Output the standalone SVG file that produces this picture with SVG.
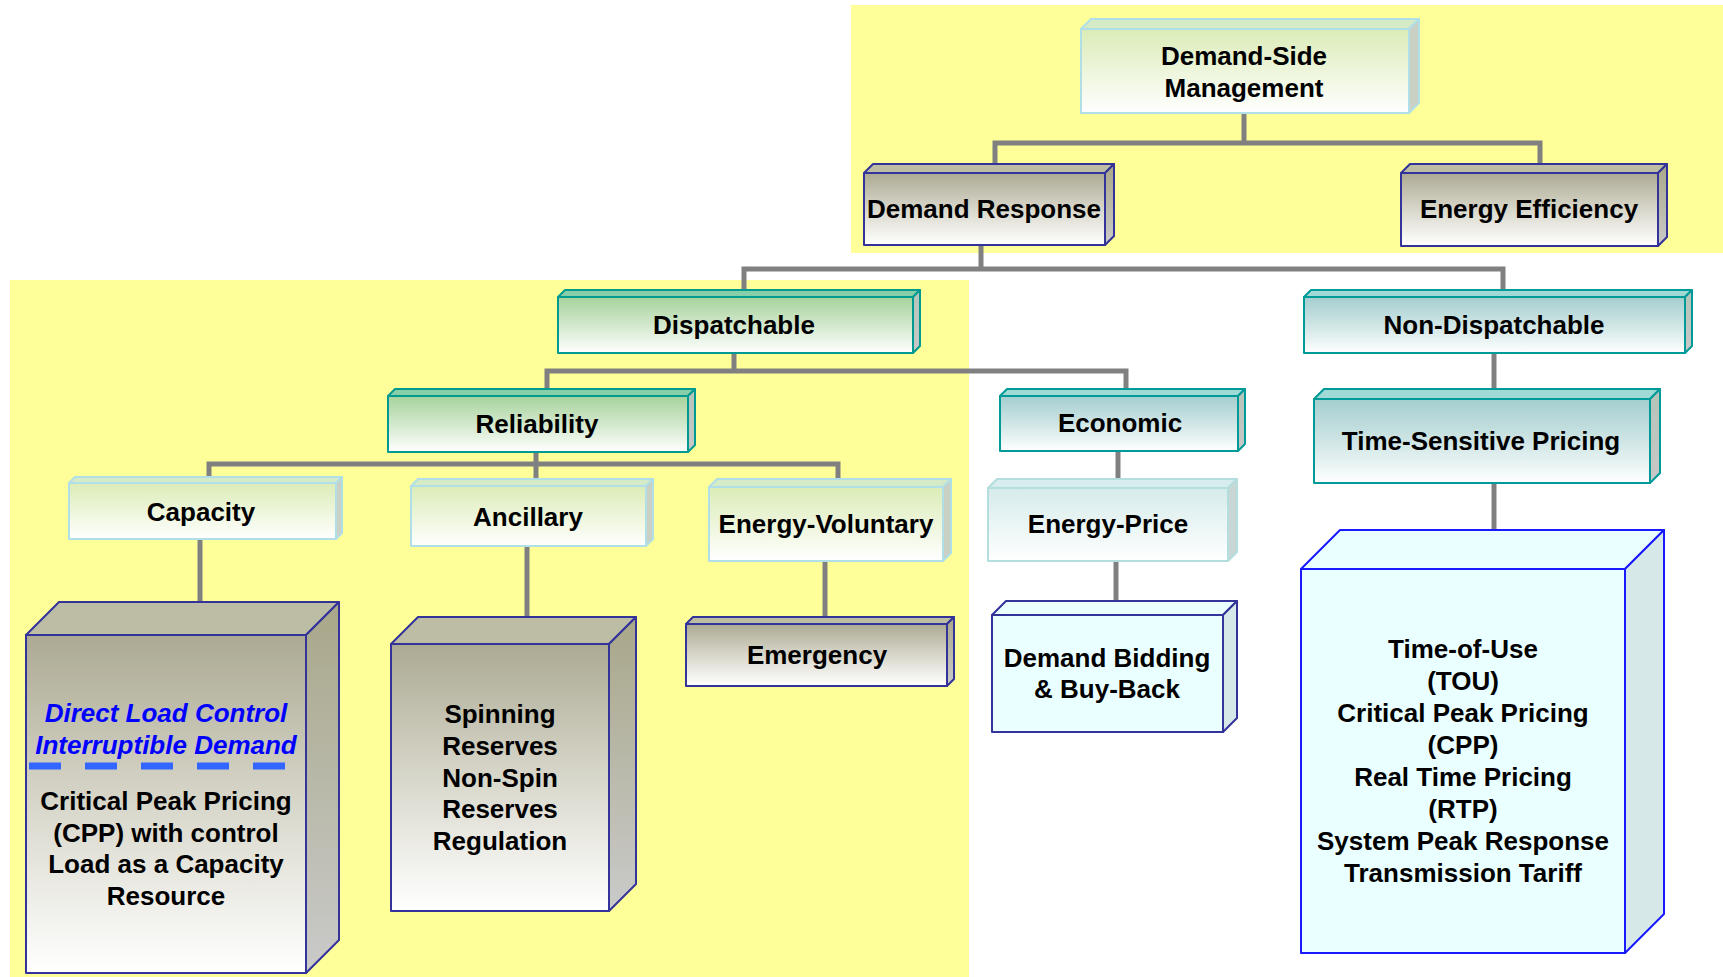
<svg xmlns="http://www.w3.org/2000/svg" width="1723" height="977" viewBox="0 0 1723 977">
  <defs>
    <!-- front-face fills -->
    <linearGradient id="gKhaki" x1="0" y1="0" x2="0" y2="1">
      <stop offset="0" stop-color="#acaa93"/>
      <stop offset="0.55" stop-color="#dcdbd0"/>
      <stop offset="1" stop-color="#ffffff"/>
    </linearGradient>
    <linearGradient id="gKhakiSide" x1="0" y1="0" x2="0" y2="1">
      <stop offset="0" stop-color="#a8a789"/>
      <stop offset="1" stop-color="#cacaca"/>
    </linearGradient>
    <linearGradient id="gGreen" x1="0" y1="0" x2="0" y2="1">
      <stop offset="0" stop-color="#a6d39c"/>
      <stop offset="0.5" stop-color="#d2e8cc"/>
      <stop offset="1" stop-color="#ffffff"/>
    </linearGradient>
    <linearGradient id="gTeal" x1="0" y1="0" x2="0" y2="1">
      <stop offset="0" stop-color="#a4cecf"/>
      <stop offset="0.5" stop-color="#cfe5e5"/>
      <stop offset="1" stop-color="#ffffff"/>
    </linearGradient>
    <linearGradient id="gLime" x1="0" y1="0" x2="0" y2="1">
      <stop offset="0" stop-color="#dbecb7"/>
      <stop offset="1" stop-color="#ffffff"/>
    </linearGradient>
    <linearGradient id="gIce" x1="0" y1="0" x2="0" y2="1">
      <stop offset="0" stop-color="#d6ebeb"/>
      <stop offset="1" stop-color="#ffffff"/>
    </linearGradient>
    <linearGradient id="gGreySide" x1="0" y1="0" x2="0" y2="1">
      <stop offset="0" stop-color="#b4c4b8"/>
      <stop offset="1" stop-color="#c8c8c8"/>
    </linearGradient>
  </defs>
  <style>
    text { font-family: "Liberation Sans", Arial, sans-serif; font-weight: bold; font-size: 26px; fill: #000; text-anchor: middle; }
    .em { font-style: italic; fill: #0000ff; }
    .conn { fill: none; stroke: #808080; stroke-width: 5; }
    .k { stroke: #333399; stroke-width: 2; stroke-linejoin: round; }
    .k .front { fill: url(#gKhaki); }
    .k .top { fill: #bdbca4; }
    .k .side { fill: url(#gKhakiSide); }
    .gr { stroke: #009a90; stroke-width: 2; stroke-linejoin: round; }
    .gr .front { fill: url(#gGreen); }
    .gr .top { fill: #86cfa8; }
    .gr .side { fill: url(#gGreySide); }
    .tl { stroke: #009a98; stroke-width: 2; stroke-linejoin: round; }
    .tl .front { fill: url(#gTeal); }
    .tl .top { fill: #9fdad6; }
    .tl .side { fill: url(#gGreySide); }
    .li { stroke: #b0dfe8; stroke-width: 2; stroke-linejoin: round; }
    .li .front { fill: url(#gLime); }
    .li .top { fill: #d5eac6; }
    .li .side { fill: #cbd0c4; }
    .ic { stroke: #b4dede; stroke-width: 2; stroke-linejoin: round; }
    .ic .front { fill: url(#gIce); }
    .ic .top { fill: #d8eded; }
    .ic .side { fill: #c9d6d6; }
    .cy { stroke: #333399; stroke-width: 2; stroke-linejoin: round; }
    .cy .front, .cy .top { fill: #eaffff; }
    .cy .side { fill: #d6e8e8; }
    .cyb { stroke: #1a1aff; stroke-width: 2; stroke-linejoin: round; }
    .cyb .front, .cyb .top { fill: #eaffff; }
    .cyb .side { fill: #d6e8e8; }
    g text { stroke: none; }
  </style>

  <rect width="1723" height="977" fill="#ffffff"/>
  <!-- highlighted zones -->
  <rect x="851" y="5" width="872" height="248" fill="#ffff99"/>
  <rect x="10" y="280" width="959" height="697" fill="#ffff99"/>

  <!-- connectors -->
  <g id="connectors">
    <path class="conn" d="M1244 113 V143 M995 164 V143 H1540 V164"/>
    <path class="conn" d="M981 244 V269 M744 291 V269 H1503 V291"/>
    <path class="conn" d="M734 353 V371 M547 389 V371 H1126 V389"/>
    <path class="conn" d="M1494 353 V389"/>
    <path class="conn" d="M536 452 V479 M209 477 V464 H838 V479"/>
    <path class="conn" d="M200 539 V602"/>
    <path class="conn" d="M527 546 V617"/>
    <path class="conn" d="M825 561 V617"/>
    <path class="conn" d="M1118 451 V480"/>
    <path class="conn" d="M1116 561 V601"/>
    <path class="conn" d="M1494 483 V530"/>
  </g>

  <!-- Demand-Side Management: x1081 y29 w328 h84 d10 -->
  <g id="dsm" class="li">
    <polygon class="top" points="1081,29 1091,19 1419,19 1409,29"/>
    <polygon class="side" points="1409,29 1419,19 1419,103 1409,113"/>
    <rect class="front" x="1081" y="29" width="328" height="84"/>
    <text x="1244" y="65">Demand-Side</text>
    <text x="1244" y="97">Management</text>
  </g>

  <!-- Demand Response: x864 y173 w241 h72 d9 -->
  <g id="demand-response" class="k">
    <polygon class="top" points="864,173 873,164 1114,164 1105,173"/>
    <polygon class="side" points="1105,173 1114,164 1114,236 1105,245"/>
    <rect class="front" x="864" y="173" width="241" height="72"/>
    <text x="984" y="218">Demand Response</text>
  </g>

  <!-- Energy Efficiency -->
  <g id="energy-efficiency" class="k">
    <polygon class="top" points="1401,173 1410,164 1667,164 1658,173"/>
    <polygon class="side" points="1658,173 1667,164 1667,237 1658,246"/>
    <rect class="front" x="1401" y="173" width="257" height="73"/>
    <text x="1529" y="218">Energy Efficiency</text>
  </g>

  <!-- Dispatchable -->
  <g id="dispatchable" class="gr">
    <polygon class="top" points="558,297 565,290 920,290 913,297"/>
    <polygon class="side" points="913,297 920,290 920,346 913,353"/>
    <rect class="front" x="558" y="297" width="355" height="56"/>
    <text x="734" y="334">Dispatchable</text>
  </g>

  <!-- Non-Dispatchable -->
  <g id="non-dispatchable" class="tl">
    <polygon class="top" points="1304,297 1311,290 1692,290 1685,297"/>
    <polygon class="side" points="1685,297 1692,290 1692,346 1685,353"/>
    <rect class="front" x="1304" y="297" width="381" height="56"/>
    <text x="1494" y="334">Non-Dispatchable</text>
  </g>

  <!-- Reliability -->
  <g id="reliability" class="gr">
    <polygon class="top" points="388,396 395,389 695,389 688,396"/>
    <polygon class="side" points="688,396 695,389 695,445 688,452"/>
    <rect class="front" x="388" y="396" width="300" height="56"/>
    <text x="537" y="433">Reliability</text>
  </g>

  <!-- Economic -->
  <g id="economic" class="tl">
    <polygon class="top" points="1000,396 1007,389 1245,389 1238,396"/>
    <polygon class="side" points="1238,396 1245,389 1245,444 1238,451"/>
    <rect class="front" x="1000" y="396" width="238" height="55"/>
    <text x="1120" y="432">Economic</text>
  </g>

  <!-- Time-Sensitive Pricing -->
  <g id="time-sensitive-pricing" class="tl">
    <polygon class="top" points="1314,399 1324,389 1660,389 1650,399"/>
    <polygon class="side" points="1650,399 1660,389 1660,473 1650,483"/>
    <rect class="front" x="1314" y="399" width="336" height="84"/>
    <text x="1481" y="450">Time-Sensitive Pricing</text>
  </g>

  <!-- Capacity -->
  <g id="capacity" class="li">
    <polygon class="top" points="69,483 75,477 342,477 336,483"/>
    <polygon class="side" points="336,483 342,477 342,533 336,539"/>
    <rect class="front" x="69" y="483" width="267" height="56"/>
    <text x="201" y="521">Capacity</text>
  </g>

  <!-- Ancillary -->
  <g id="ancillary" class="li">
    <polygon class="top" points="411,486 418,479 653,479 646,486"/>
    <polygon class="side" points="646,486 653,479 653,539 646,546"/>
    <rect class="front" x="411" y="486" width="235" height="60"/>
    <text x="528" y="526">Ancillary</text>
  </g>

  <!-- Energy-Voluntary -->
  <g id="energy-voluntary" class="li">
    <polygon class="top" points="709,487 717,479 951,479 943,487"/>
    <polygon class="side" points="943,487 951,479 951,553 943,561"/>
    <rect class="front" x="709" y="487" width="234" height="74"/>
    <text x="826" y="533">Energy-Voluntary</text>
  </g>

  <!-- Energy-Price -->
  <g id="energy-price" class="ic">
    <polygon class="top" points="988,488 997,479 1237,479 1228,488"/>
    <polygon class="side" points="1228,488 1237,479 1237,552 1228,561"/>
    <rect class="front" x="988" y="488" width="240" height="73"/>
    <text x="1108" y="533">Energy-Price</text>
  </g>

  <!-- Emergency -->
  <g id="emergency" class="k">
    <polygon class="top" points="686,624 693,617 954,617 947,624"/>
    <polygon class="side" points="947,624 954,617 954,679 947,686"/>
    <rect class="front" x="686" y="624" width="261" height="62"/>
    <text x="817" y="664">Emergency</text>
  </g>

  <!-- Demand Bidding & Buy-Back -->
  <g id="demand-bidding" class="cy">
    <polygon class="top" points="992,615 1006,601 1237,601 1223,615"/>
    <polygon class="side" points="1223,615 1237,601 1237,718 1223,732"/>
    <rect class="front" x="992" y="615" width="231" height="117"/>
    <text x="1107" y="667">Demand Bidding</text>
    <text x="1107" y="698">&amp; Buy-Back</text>
  </g>

  <!-- Capacity programmes -->
  <g id="capacity-programs" class="k">
    <polygon class="top" points="26,635 59,602 339,602 306,635"/>
    <polygon class="side" points="306,635 339,602 339,940 306,973"/>
    <rect class="front" x="26" y="635" width="280" height="338"/>
    <text class="em" x="166" y="722">Direct Load Control</text>
    <text class="em" x="166" y="754">Interruptible Demand</text>
    <line x1="29" y1="766" x2="308" y2="766" stroke="#3366ff" stroke-width="7" stroke-dasharray="32 24"/>
    <text x="166" y="810">Critical Peak Pricing</text>
    <text x="166" y="842">(CPP) with control</text>
    <text x="166" y="873">Load as a Capacity</text>
    <text x="166" y="905">Resource</text>
  </g>

  <!-- Ancillary services -->
  <g id="ancillary-services" class="k">
    <polygon class="top" points="391,644 418,617 636,617 609,644"/>
    <polygon class="side" points="609,644 636,617 636,884 609,911"/>
    <rect class="front" x="391" y="644" width="218" height="267"/>
    <text x="500" y="723">Spinning</text>
    <text x="500" y="755">Reserves</text>
    <text x="500" y="787">Non-Spin</text>
    <text x="500" y="818">Reserves</text>
    <text x="500" y="850">Regulation</text>
  </g>

  <!-- Pricing programmes -->
  <g id="pricing-programs" class="cyb">
    <polygon class="top" points="1301,569 1340,530 1664,530 1625,569"/>
    <polygon class="side" points="1625,569 1664,530 1664,914 1625,953"/>
    <rect class="front" x="1301" y="569" width="324" height="384"/>
    <text x="1463" y="658">Time-of-Use</text>
    <text x="1463" y="690">(TOU)</text>
    <text x="1463" y="722">Critical Peak Pricing</text>
    <text x="1463" y="754">(CPP)</text>
    <text x="1463" y="786">Real Time Pricing</text>
    <text x="1463" y="818">(RTP)</text>
    <text x="1463" y="850">System Peak Response</text>
    <text x="1463" y="882">Transmission Tariff</text>
  </g>
</svg>
